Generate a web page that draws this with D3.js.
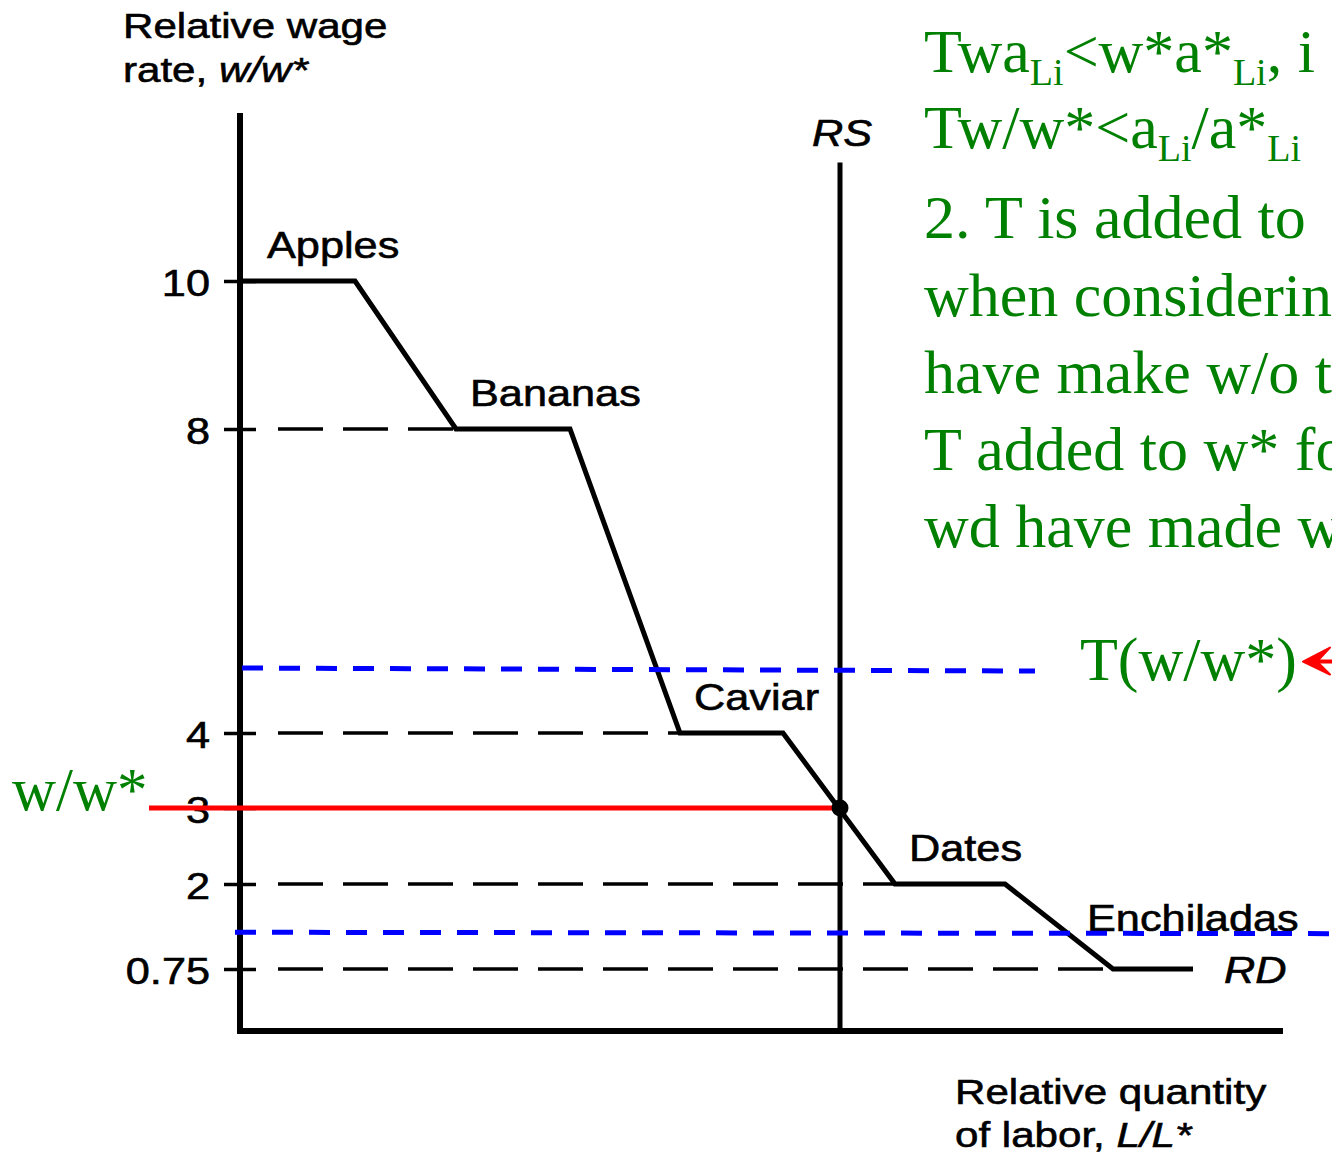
<!DOCTYPE html>
<html>
<head>
<meta charset="utf-8">
<script src="https://cdn.jsdelivr.net/npm/d3@7"></script>
<style>
  body { margin: 0; background: #fff; }
  svg { display: block; }
</style>
</head>
<body>
<svg id="chart" width="1332" height="1154"></svg>
<script>
// Relative demand (RD) for labor: corners of the step curve
const rdQuantity = [0, 1.15, 2.16, 3.30, 4.40, 5.43, 6.55, 7.65, 8.73, 9.53];
const rdWage     = [10, 10, 8, 8, 4, 4, 2, 2, 0.75, 0.75];

// Goods, one per flat step of RD (index of the corner where each step starts)
const goods     = ["Apples", "Bananas", "Caviar", "Dates", "Enchiladas"];
const goodStep  = [0, 2, 4, 6, 8];

// Wage-axis ticks
const yTicks      = [0.75, 2, 3, 4, 8, 10];
const yTickLabels = ["0.75", "2", "3", "4", "8", "10"];

// Relative supply (vertical) and the equilibrium relative wage
const rsQuantity = 6.0;
const rsTop = 11.6;
const eqWage = 3;
const eqLineStart = -0.91;

// Relative wage shifted by the transport cost T (blue dashed bounds)
const tHighQuantity = [0.02, 7.95];
const tHighWage     = [4.855, 4.815];
const tLowQuantity  = [-0.05, 11.0];
const tLowWage      = [1.29, 1.27];
const arrowQuantity = [10.63, 11.3];
const arrowWage     = 4.94;

// Green notes
const noteLines = [
  [["Twa", 0], ["Li", 1], ["<w*a*", 0], ["Li", 1], [", i", 0]],
  [["Tw/w*<a", 0], ["Li", 1], ["/a*", 0], ["Li", 1]],
  [["2. T is added to", 0]],
  [["when considering", 0]],
  [["have make w/o t", 0]],
  [["T added to w* for", 0]],
  [["wd have made w", 0]]
];

const svg = d3.select("#chart");

const x = d3.scaleLinear().domain([0, 10.43]).range([240, 1283]);
const y = d3.scaleLinear()
  .domain([0, 0.75, 2, 3, 4, 8, 10, 12.27])
  .range([1031, 969, 884, 808, 733, 429, 281, 113]);

const SANS = "'Liberation Sans', Arial, Helvetica, sans-serif";
const SERIF = "'Liberation Serif', 'Times New Roman', serif";
const GREEN = "#008000";
const STRETCH = 1.17;

// Horizontally stretched sans label; parts = [[text, italic], ...]
function label(px, py, parts, size = 37, anchor = "start") {
  const t = svg.append("text")
    .attr("transform", `translate(${px},${py}) scale(${STRETCH},1)`)
    .attr("font-family", SANS)
    .attr("font-size", size)
    .attr("text-anchor", anchor)
    .attr("fill", "#000")
    .attr("stroke", "#000")
    .attr("stroke-width", 0.6);
  parts.forEach(([s, it]) => {
    t.append("tspan").attr("font-style", it ? "italic" : "normal").text(s);
  });
  return t;
}

// Dashed guides from the wage axis to where each step begins
const guideLevels = [
  { w: 8, end: rdQuantity[2] },
  { w: 4, end: rdQuantity[4] },
  { w: 3, end: rsQuantity },
  { w: 2, end: rdQuantity[6] },
  { w: 0.75, end: rdQuantity[8] }
];
svg.append("g").selectAll("line").data(guideLevels).join("line")
  .attr("x1", x(0) + 38)
  .attr("x2", d => x(d.end))
  .attr("y1", d => y(d.w))
  .attr("y2", d => y(d.w))
  .attr("stroke", "#000")
  .attr("stroke-width", 3.5)
  .attr("stroke-dasharray", "45,20");

// Wage axis ticks and labels
const yAxis = d3.axisLeft(y)
  .tickValues(yTicks)
  .tickFormat((d, i) => yTickLabels[i])
  .tickSize(16)
  .tickPadding(10);
const gy = svg.append("g").attr("transform", `translate(${x(0)},0)`).call(yAxis);
gy.select(".domain").remove();
gy.selectAll(".tick line").attr("x1", 16).attr("stroke", "#000").attr("stroke-width", 3.5);
gy.selectAll(".tick text")
  .attr("font-family", SANS)
  .attr("font-size", 37)
  .attr("fill", "#000")
  .attr("stroke", "#000")
  .attr("stroke-width", 0.6)
  .attr("x", -30 / STRETCH)
  .attr("dy", "0.38em")
  .attr("transform", `scale(${STRETCH},1)`);

// Axes
svg.append("line")
  .attr("x1", x(0)).attr("x2", x(0))
  .attr("y1", y(12.27)).attr("y2", y(0) + 3)
  .attr("stroke", "#000").attr("stroke-width", 6);
svg.append("line")
  .attr("x1", x(0) - 3).attr("x2", x(10.43))
  .attr("y1", y(0)).attr("y2", y(0))
  .attr("stroke", "#000").attr("stroke-width", 6);

// RS
svg.append("line")
  .attr("x1", x(rsQuantity)).attr("x2", x(rsQuantity))
  .attr("y1", y(rsTop)).attr("y2", y(0))
  .attr("stroke", "#000").attr("stroke-width", 5);

// RD step curve
const rdPoints = rdQuantity.map((q, i) => [x(q), y(rdWage[i])]);
svg.append("path")
  .attr("d", d3.line()(rdPoints))
  .attr("fill", "none")
  .attr("stroke", "#000")
  .attr("stroke-width", 5)
  .attr("stroke-linejoin", "miter");

// Goods names above their steps
goods.forEach((name, i) => {
  const k = goodStep[i];
  let px = x(rdQuantity[k]) + 14, py = y(rdWage[k]) - 23;
  if (i === 0) px += 13;
  if (i === goods.length - 1) { px -= 40; py -= 15; }
  label(px, py, [[name, false]]);
});

// Curve names
label(x(rsQuantity) - 28, y(rsTop) - 17, [["RS", true]]);
label(x(rdQuantity[9]) + 31, y(0.75) + 14, [["RD", true]]);

// Axis titles
label(123, 38, [["Relative wage", false]], 36);
label(123, 82, [["rate, ", false], ["w/w*", true]], 36);
label(955, 1104, [["Relative quantity", false]], 36);
label(955, 1147, [["of labor, ", false], ["L/L*", true]], 36);

// Blue dashed bounds
const blueLine = d3.line();
[[tHighQuantity, tHighWage], [tLowQuantity, tLowWage]].forEach(([qs, ws]) => {
  svg.append("path")
    .attr("d", blueLine(qs.map((q, i) => [x(q), y(ws[i])])))
    .attr("fill", "none")
    .attr("stroke", "#0000ff")
    .attr("stroke-width", 5)
    .attr("stroke-dasharray", "21,16");
});

// Equilibrium relative wage line
svg.append("line")
  .attr("x1", x(eqLineStart)).attr("x2", x(rsQuantity) - 4)
  .attr("y1", y(eqWage)).attr("y2", y(eqWage))
  .attr("stroke", "#ff0000").attr("stroke-width", 5);

// Equilibrium point
svg.append("circle")
  .attr("cx", x(rsQuantity)).attr("cy", y(eqWage)).attr("r", 8.5)
  .attr("fill", "#000");

// Red arrow pointing at T(w/w*)
const ax = x(arrowQuantity[0]), ay = y(arrowWage);
svg.append("line")
  .attr("x1", ax + 12).attr("x2", x(arrowQuantity[1]))
  .attr("y1", ay).attr("y2", ay)
  .attr("stroke", "#ff0000").attr("stroke-width", 4);
svg.append("path")
  .attr("d", `M${ax},${ay} L${ax + 27},${ay - 14} L${ax + 14},${ay} L${ax + 27},${ay + 13} Z`)
  .attr("fill", "#ff0000")
  .attr("stroke", "#ff0000")
  .attr("stroke-width", 2)
  .attr("stroke-linejoin", "round");

// Green annotations
function greenText(px, py, parts, size = 62) {
  const t = svg.append("text")
    .attr("x", px).attr("y", py)
    .attr("font-family", SERIF)
    .attr("font-size", size)
    .attr("fill", GREEN);
  let shifted = false;
  parts.forEach(([s, sub]) => {
    const ts = t.append("tspan").text(s);
    if (sub && !shifted) { ts.attr("dy", 13).attr("font-size", 38); shifted = true; }
    else if (sub && shifted) { ts.attr("font-size", 38); }
    else if (!sub && shifted) { ts.attr("dy", -13); shifted = false; }
  });
  return t;
}
const noteBaselines = [72, 148, 238, 316, 393, 470, 547];
noteLines.forEach((parts, i) => greenText(924, noteBaselines[i], parts));

greenText(12, 810, [["w/w*", 0]], 61);
greenText(1080, 680, [["T(w/w*)", 0]]);
</script>
</body>
</html>
